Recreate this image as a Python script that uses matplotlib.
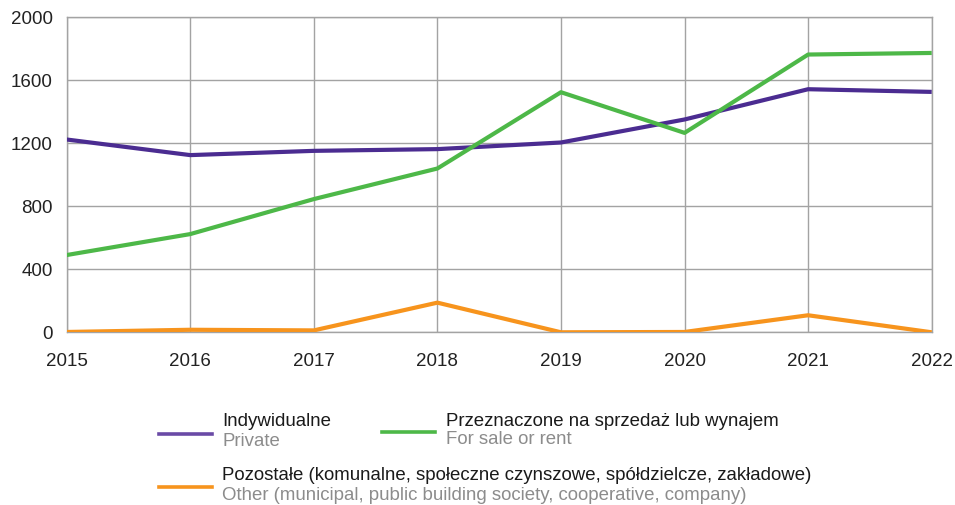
#!/usr/bin/env python3

import matplotlib
matplotlib.use("Agg")
import matplotlib.pyplot as plt
from matplotlib.lines import Line2D

# data
years = [2015, 2016, 2017, 2018, 2019, 2020, 2021, 2022]
private = [1223, 1124, 1151, 1162, 1204, 1350, 1542, 1525]
for_sale = [490, 623, 845, 1039, 1523, 1265, 1762, 1772]
other = [2, 16, 12, 188, 0, 2, 108, 0]

y_ticks = [0, 400, 800, 1200, 1600, 2000]

purple = "#4b2c91"
purple_key = "#6a4aa6"
green = "#4db848"
orange = "#f7941d"
grid_col = "#a3a3a3"

plt.rcParams['font.family'] = ['Liberation Sans', 'DejaVu Sans']

fig = plt.figure(figsize=(9.55, 5.05), dpi=100)
ax = fig.add_axes([0.0698, 0.342, 0.9058, 0.6243])

ax.plot(years, private, color=purple, lw=3, solid_capstyle="butt", zorder=3)
ax.plot(years, for_sale, color=green, lw=3, solid_capstyle="butt", zorder=3)
ax.plot(years, other, color=orange, lw=3, solid_capstyle="butt", zorder=3)

ax.set_xlim(years[0], years[-1])
ax.set_ylim(0, 2000)
ax.set_xticks(years)
ax.set_yticks(y_ticks)
ax.grid(True, color=grid_col, lw=1)
ax.set_axisbelow(True)
for s in ax.spines.values():
    s.set_color(grid_col)
    s.set_linewidth(1)
ax.tick_params(axis="both", length=0, labelsize=13.5, colors="#222222")
ax.tick_params(axis="y", pad=10)
ax.tick_params(axis="x", pad=15)

# legend drawn by hand (two-colour labels)
W, H = 955.0, 505.0

def handle(x0, x1, y, col):
    fig.add_artist(Line2D([x0 / W, x1 / W], [1 - y / H, 1 - y / H],
                          color=col, lw=2.6, transform=fig.transFigure))

def label(x, y1, y2, t1, t2):
    fig.text(x / W, 1 - y1 / H, t1, fontsize=13.4, color="#1a1a1a", va="center")
    fig.text(x / W, 1 - y2 / H, t2, fontsize=13.4, color="#8c8c8c", va="center")

handle(159, 212, 434, purple_key)
label(222, 422, 442, "Indywidualne", "Private")
handle(382, 435, 432, green)
label(446, 421, 440, "Przeznaczone na sprzedaż lub wynajem", "For sale or rent")
handle(159, 212, 487, orange)
label(222, 476, 495, "Pozostałe (komunalne, społeczne czynszowe, spółdzielcze, zakładowe)",
      "Other (municipal, public building society, cooperative, company)")

fig.savefig("out.png", dpi=100)
